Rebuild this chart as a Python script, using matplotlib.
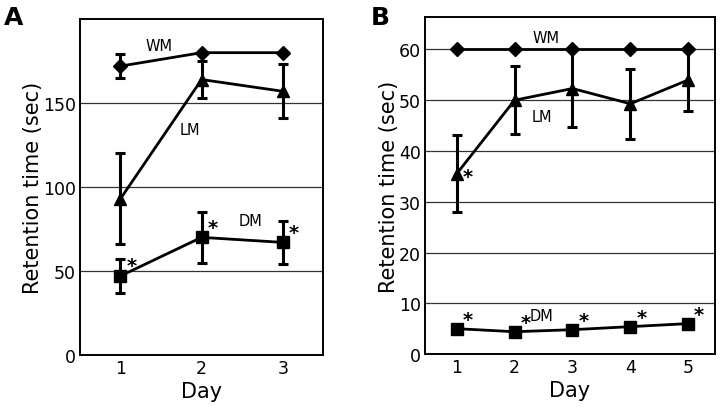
import matplotlib
matplotlib.use("Agg")
import matplotlib.pyplot as plt

plt.rcParams['font.family'] = ['DejaVu Sans']

# Panel A data
days_a = [1, 2, 3]
wm_a = [172, 180, 180]
wm_a_err = [7, 0, 0]
lm_a = [93, 164, 157]
lm_a_err = [27, 11, 16]
dm_a = [47, 70, 67]
dm_a_err = [10, 15, 13]
dm_a_sig = [True, True, True]

# Panel B data
days_b = [1, 2, 3, 4, 5]
wm_b = [60, 60, 60, 60, 60]
lm_b = [35.5, 50, 52.3, 49.3, 54]
lm_b_err = [7.6, 6.7, 7.6, 6.9, 6.2]
lm_b_sig = [True, False, False, False, False]
dm_b = [5.0, 4.4, 4.8, 5.4, 6.0]
dm_b_sig = [True, True, True, True, True]

fig = plt.figure(figsize=(7.2, 4.1), dpi=100)
axA = fig.add_axes([0.111, 0.132, 0.338, 0.819])
axB = fig.add_axes([0.590, 0.134, 0.403, 0.821])

lw = 2.0
ekw = dict(ecolor='black', elinewidth=2.2, capsize=3.5, capthick=2.2)

def style(ax, xlim, ylim, yticks, grid_vals, xticks):
    ax.set_xlim(*xlim)
    ax.set_ylim(*ylim)
    ax.set_yticks(yticks)
    ax.set_xticks(xticks)
    ax.tick_params(length=0, labelsize=12.5, pad=3)
    for v in grid_vals:
        ax.axhline(v, color='#333333', lw=0.9, zorder=0)
    for s in ax.spines.values():
        s.set_linewidth(1.4)
    ax.set_xlabel('Day', fontsize=15, labelpad=3)
    ax.set_ylabel('Retention time (sec)', fontsize=15, labelpad=0)

# Panel A
style(axA, (0.5, 3.5), (0, 200), [0, 50, 100, 150], [50, 100, 150], days_a)
axA.errorbar(days_a, wm_a, yerr=wm_a_err, color='black', lw=lw, marker='D', ms=7, **ekw)
axA.errorbar(days_a, lm_a, yerr=lm_a_err, color='black', lw=lw, marker='^', ms=9, **ekw)
axA.errorbar(days_a, dm_a, yerr=dm_a_err, color='black', lw=lw, marker='s', ms=9, **ekw)
for x, y, s in zip(days_a, dm_a, dm_a_sig):
    if s:
        axA.text(x + 0.07, y + 6, '*', fontsize=14, fontweight='bold', ha='left', va='center')
axA.text(1.48, 184, 'WM', fontsize=10.5, ha='center', va='center')
axA.text(1.85, 134, 'LM', fontsize=10.5, ha='center', va='center')
axA.text(2.6, 80, 'DM', fontsize=10.5, ha='center', va='center')

# Panel B
style(axB, (0.45, 5.46), (0, 66.3), [0, 10, 20, 30, 40, 50, 60], [10, 20, 30, 40, 50, 60], days_b)
axB.plot(days_b, wm_b, color='black', lw=lw, marker='D', ms=7, zorder=3)
axB.errorbar(days_b, lm_b, yerr=lm_b_err, color='black', lw=lw, marker='^', ms=9, **ekw)
axB.plot(days_b, dm_b, color='black', lw=lw, marker='s', ms=9)
for x, y, s in zip(days_b, lm_b, lm_b_sig):
    if s:
        axB.text(x + 0.1, y - 0.6, '*', fontsize=14, fontweight='bold', ha='left', va='center')
for x, y, s in zip(days_b, dm_b, dm_b_sig):
    if s:
        axB.text(x + 0.1, y + 1.8, '*', fontsize=14, fontweight='bold', ha='left', va='center')
axB.text(2.55, 62.4, 'WM', fontsize=10.5, ha='center', va='center')
axB.text(2.47, 46.8, 'LM', fontsize=10.5, ha='center', va='center')
axB.text(2.47, 7.6, 'DM', fontsize=10.5, ha='center', va='center')

fig.text(0.006, 0.955, 'A', fontsize=18, fontweight='bold', ha='left', va='center')
fig.text(0.515, 0.955, 'B', fontsize=18, fontweight='bold', ha='left', va='center')

fig.savefig('out.png', dpi=100)
